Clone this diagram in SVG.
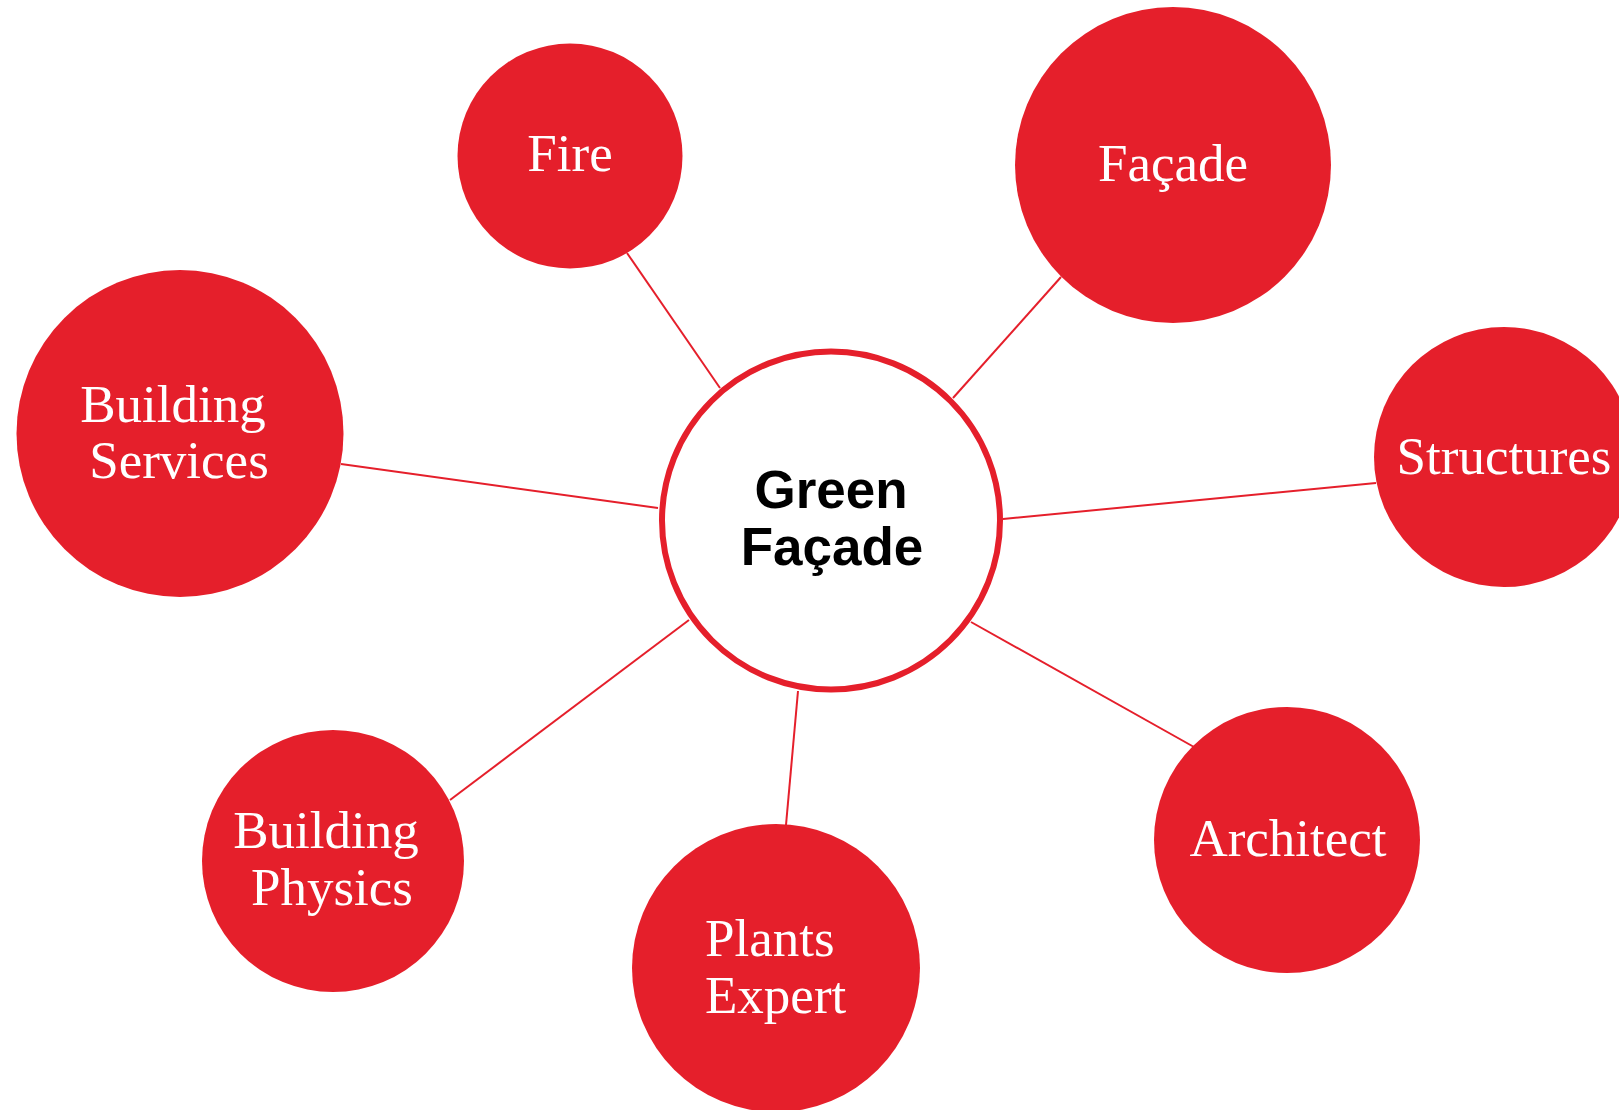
<svg xmlns="http://www.w3.org/2000/svg" width="1619" height="1110" viewBox="0 0 1619 1110">
<style>
.node{fill:#E51F2B;}
.lbl{font-family:"Liberation Serif","Times New Roman",serif;font-size:53px;fill:#FFFFFF;text-anchor:middle;}
.hub{fill:#FFFFFF;stroke:#E51F2B;stroke-width:6;}
.hubt{font-family:"Liberation Sans",Arial,sans-serif;font-size:53px;font-weight:bold;fill:#000000;text-anchor:middle;}
.conn line{stroke:#E51F2B;stroke-width:2;}
</style>
<rect width="1619" height="1110" fill="#FFFFFF"/>
<g id="connectors" class="conn">
<line x1="720" y1="388" x2="627" y2="253"/>
<line x1="953" y1="398" x2="1061" y2="277"/>
<line x1="1003" y1="519" x2="1376" y2="483"/>
<line x1="971" y1="622" x2="1194" y2="747"/>
<line x1="798" y1="691" x2="786" y2="825"/>
<line x1="689" y1="620" x2="450" y2="800"/>
<line x1="658" y1="508" x2="341" y2="464"/>
</g>
<g id="fire"><circle class="node" cx="570" cy="156" r="112.5"/><text class="lbl" x="570" y="171">Fire</text></g>
<g id="facade"><circle class="node" cx="1173" cy="165" r="158"/><text class="lbl" x="1173" y="181">Façade</text></g>
<g id="structures"><circle class="node" cx="1504" cy="457" r="130"/><text class="lbl" x="1504" y="474">Structures</text></g>
<g id="architect"><circle class="node" cx="1287" cy="840" r="133"/><text class="lbl" x="1288" y="856">Architect</text></g>
<g id="plants-expert"><circle class="node" cx="776" cy="968" r="144"/><text class="lbl" x="705" y="956" style="text-anchor:start">Plants</text><text class="lbl" x="705" y="1013" style="text-anchor:start">Expert</text></g>
<g id="building-physics"><circle class="node" cx="333" cy="861" r="131"/><text class="lbl" x="326" y="848">Building</text><text class="lbl" x="332" y="905">Physics</text></g>
<g id="building-services"><circle class="node" cx="180" cy="433.5" r="163.5"/><text class="lbl" x="173" y="422">Building</text><text class="lbl" x="179" y="478">Services</text></g>
<g id="green-facade"><circle class="hub" cx="831" cy="520.5" r="169"/><text class="hubt" x="831" y="508">Green</text><text class="hubt" x="832" y="565">Façade</text></g>
</svg>
